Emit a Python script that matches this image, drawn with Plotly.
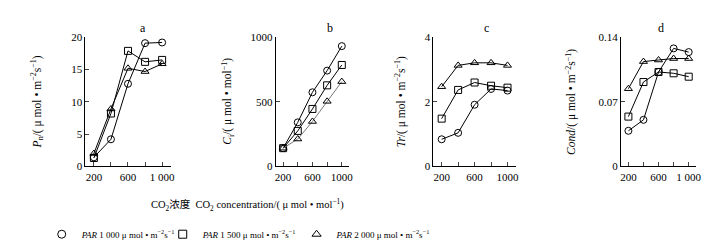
import plotly.graph_objects as go

co2 = [200, 400, 600, 800, 1000]

pn_1000 = [1.4, 4.2, 12.8, 19.1, 19.2]
pn_1500 = [1.3, 8.2, 17.9, 16.2, 16.5]
pn_2000 = [2.0, 8.9, 15.2, 14.7, 15.9]

ci_1000 = [141, 341, 574, 742, 932]
ci_1500 = [141, 275, 445, 628, 786]
ci_2000 = [141, 212, 348, 504, 657]

tr_1000 = [0.84, 1.04, 1.91, 2.40, 2.35]
tr_1500 = [1.48, 2.37, 2.60, 2.50, 2.44]
tr_2000 = [2.47, 3.13, 3.21, 3.21, 3.13]

cond_1000 = [0.0386, 0.0505, 0.1024, 0.128, 0.124]
cond_1500 = [0.054, 0.0915, 0.1024, 0.101, 0.0973]
cond_2000 = [0.0843, 0.1137, 0.1154, 0.117, 0.117]

panels = [
    ("a", [pn_1000, pn_1500, pn_2000], [0, 20], [0, 5, 10, 15, 20], ["0", "5", "10", "15", "20"],
     ["200", "", "600", "", "1 000"],
     "<i>P</i><sub>n</sub>/( μ mol • m<sup>−2</sup>s<sup>−1</sup>)"),
    ("b", [ci_1000, ci_1500, ci_2000], [0, 1000], [0, 500, 1000], ["0", "500", "1000"],
     ["200", "", "600", "", "1000"],
     "<i>C</i><sub>i</sub>/( μ mol • mol<sup>−1</sup>)"),
    ("c", [tr_1000, tr_1500, tr_2000], [0, 4], [0, 2, 4], ["0", "2", "4"],
     ["200", "", "600", "", "1000"],
     "<i>Tr</i>/( μ mol • m<sup>−2</sup>s<sup>−1</sup>)"),
    ("d", [cond_1000, cond_1500, cond_2000], [0, 0.14], [0, 0.07, 0.14], ["0", "0.07", "0.14"],
     ["200", "", "600", "", "1 000"],
     "<i>Cond</i>/( μ mol • m<sup>−2</sup>s<sup>−1</sup>)"),
]

series_names = [
    "<i>PAR</i> 1 000 μ mol • m<sup>−2</sup>s<sup>−1</sup>",
    "<i>PAR</i> 1 500 μ mol • m<sup>−2</sup>s<sup>−1</sup>",
    "<i>PAR</i> 2 000 μ mol • m<sup>−2</sup>s<sup>−1</sup>",
]
symbols = ["circle-open", "square-open", "triangle-up-open"]

W, H = 720, 252
xpix = [(77, 163), (269, 343), (428, 511), (617, 693)]
ypix = (24.5, 160)
ytitle_x = [28, 220, 395, 567]
title_x = [135, 324, 482, 657]
legend_x = [33, 155, 290]

FONT = "Liberation Serif, Times New Roman, serif"

fig = go.Figure()
layout = dict(
    width=W, height=H, margin=dict(l=0, r=0, t=0, b=0),
    paper_bgcolor="white", plot_bgcolor="white",
    font=dict(family=FONT, size=12, color="black"),
    showlegend=True,
    annotations=[],
)

for i, (lab, data, yr, yt, ytt, xtt, ytitle) in enumerate(panels):
    ax = "" if i == 0 else str(i + 1)
    for j, vals in enumerate(data):
        lc = "#777777" if (lab == "b" and j == 2) else "black"
        fig.add_trace(go.Scatter(
            x=co2, y=vals, mode="lines+markers",
            xaxis="x" + ax, yaxis="y" + ax,
            line=dict(color=lc, width=1),
            marker=dict(symbol=symbols[j], size=7, color="black", line=dict(width=1)),
            showlegend=False, cliponaxis=False,
        ))
    x0, x1 = xpix[i]
    layout["xaxis" + ax] = dict(
        domain=[x0 / W, x1 / W], range=[100, 1100], anchor="y" + ax,
        tickvals=co2, ticktext=xtt, ticks="inside", ticklen=4, tickwidth=1,
        showline=True, linecolor="black", linewidth=1, showgrid=False, zeroline=False,
        tickfont=dict(size=11), fixedrange=True,
    )
    layout["yaxis" + ax] = dict(
        domain=[1 - ypix[1] / H, 1 - ypix[0] / H], range=yr, anchor="x" + ax,
        tickvals=yt, ticktext=ytt, ticks="inside", ticklen=4, tickwidth=1,
        showline=True, linecolor="black", linewidth=1, showgrid=False, zeroline=False,
        tickfont=dict(size=11), fixedrange=True,
    )
    layout["annotations"].append(dict(
        text=lab, x=title_x[i] / W, y=1 - 15 / H, xref="paper", yref="paper",
        showarrow=False, font=dict(size=12), xanchor="center", yanchor="middle"))
    layout["annotations"].append(dict(
        text=ytitle, x=ytitle_x[i] / W, y=1 - 92 / H, xref="paper", yref="paper",
        showarrow=False, textangle=-90, font=dict(size=11.5), xanchor="center", yanchor="middle"))

layout["annotations"].append(dict(
    text="CO<sub>2</sub>浓度  CO<sub>2</sub> concentration/( μ mol • mol<sup>−1</sup>)",
    x=240 / W, y=1 - 201 / H, xref="paper", yref="paper", showarrow=False,
    font=dict(size=10.5, family="Liberation Serif, Noto Sans CJK SC, serif"),
    xanchor="center", yanchor="middle"))

for j in range(3):
    lg = "legend" if j == 0 else "legend" + str(j + 1)
    fig.add_trace(go.Scatter(
        x=[None], y=[None], mode="markers", name=series_names[j],
        marker=dict(symbol=symbols[j], size=8, color="black", line=dict(width=1)),
        showlegend=True, legend=lg,
    ))
    layout[lg] = dict(
        orientation="h", x=legend_x[j] / W, y=1 - 216 / H, xanchor="left", yanchor="top",
        font=dict(size=9, family=FONT), bgcolor="rgba(0,0,0,0)", itemwidth=30,
    )

fig.update_layout(**layout)
fig.write_html("out.html")
